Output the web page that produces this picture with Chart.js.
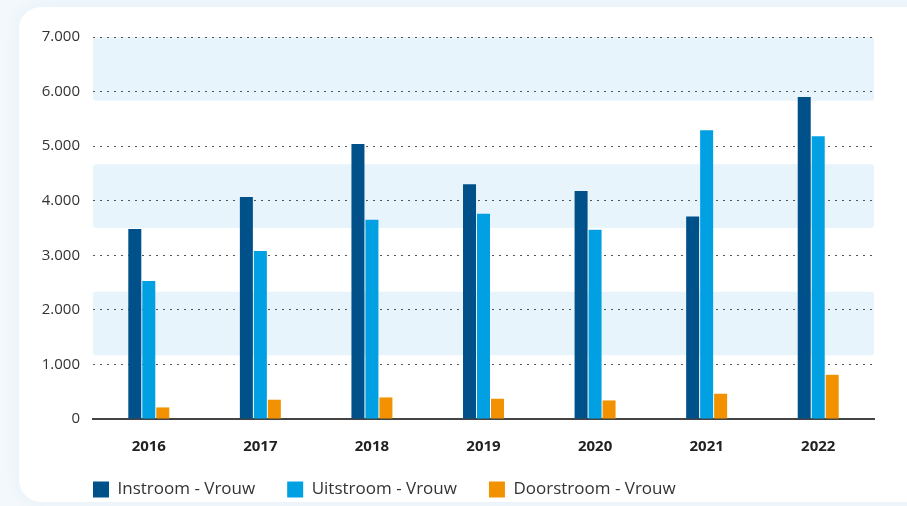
<!DOCTYPE html>
<html lang="nl">
<head>
<meta charset="utf-8">
<title>Instroom, uitstroom en doorstroom - Vrouw</title>
<script src="https://cdn.jsdelivr.net/npm/chart.js@4/dist/chart.umd.min.js"></script>
<style>
  html, body { margin: 0; padding: 0; width: 907px; height: 506px; overflow: hidden; background: #f2f8fc; }
  .card {
    position: absolute; left: 19px; top: 7px; width: 940px; height: 495px;
    background: #ffffff; border-radius: 22px;
    box-shadow: 0 0 18px rgba(0, 110, 170, 0.05);
  }
  .wrap { position: absolute; left: 0; top: 0; width: 907px; height: 506px; }
</style>
</head>
<body>
<div class="card"></div>
<div class="wrap"><canvas id="chart" width="907" height="506"></canvas></div>
<script>
// Jaren op de x-as
const years = ['2016', '2017', '2018', '2019', '2020', '2021', '2022'];

// Aantallen per jaar
const instroomVrouw   = [3480, 4070, 5040, 4300, 4180, 3710, 5900];
const uitstroomVrouw  = [2530, 3080, 3650, 3760, 3470, 5290, 5180];
const doorstroomVrouw = [212, 353, 395, 371, 340, 463, 810];

// Labels van de reeksen
const seriesLabels = ['Instroom - Vrouw', 'Uitstroom - Vrouw', 'Doorstroom - Vrouw'];

// Y-as: bereik en stapgrootte
const yMin = 0;
const yMax = 7000;
const yStep = 1000;

const FONT = "'Open Sans', 'Noto Sans', sans-serif";
const LEGEND_PADDING = 32;
const LEGEND_BOX_TOP = 481;

// Duizendtallen met een punt scheiden: 7000 -> 7.000
function formatNl(v) {
  return String(Math.round(v)).replace(/\B(?=(\d{3})+(?!\d))/g, '.');
}

// Lichtblauwe banden achter het plotvlak (zes gelijke stroken, om en om gevuld)
const bandPlugin = {
  id: 'bands',
  beforeDraw(chart) {
    const { ctx, chartArea } = chart;
    const y = chart.scales.y;
    const parts = 6;
    const size = (yMax - yMin) / parts;
    ctx.save();
    ctx.fillStyle = '#e8f4fc';
    for (let i = 0; i < parts; i += 2) {
      const top = y.getPixelForValue(yMax - i * size);
      const bottom = y.getPixelForValue(yMax - (i + 1) * size);
      ctx.beginPath();
      if (ctx.roundRect) {
        ctx.roundRect(chartArea.left, top, chartArea.right - chartArea.left, bottom - top, 3);
      } else {
        ctx.rect(chartArea.left, top, chartArea.right - chartArea.left, bottom - top);
      }
      ctx.fill();
    }
    ctx.restore();
  }
};

// Legenda laten beginnen onder de linkerrand van het plotvlak
const legendAlignPlugin = {
  id: 'legendAlign',
  afterLayout(chart) {
    const legend = chart.legend;
    if (!legend) return;
    const dx = chart.chartArea.left - LEGEND_PADDING - legend.left;
    legend.left += dx;
    legend.right += dx;
    legend.top = LEGEND_BOX_TOP - LEGEND_PADDING;
    legend.bottom = chart.height;
  }
};

new Chart(document.getElementById('chart'), {
  type: 'bar',
  data: {
    labels: years,
    datasets: [
      { label: seriesLabels[0], data: instroomVrouw,   backgroundColor: '#005189' },
      { label: seriesLabels[1], data: uitstroomVrouw,  backgroundColor: '#00a0e2' },
      { label: seriesLabels[2], data: doorstroomVrouw, backgroundColor: '#f39200' }
    ]
  },
  options: {
    responsive: false,
    animation: false,
    devicePixelRatio: 1,
    layout: { padding: { left: 30, right: 33, top: 37, bottom: 0 } },
    datasets: {
      bar: { categoryPercentage: 0.376, barPercentage: 0.93, borderWidth: 0 }
    },
    scales: {
      x: {
        afterFit(scale) { scale.height = 58; },
        grid: { display: false, drawTicks: false },
        border: { display: true, color: '#444444', width: 2 },
        ticks: {
          padding: 19,
          color: '#222222',
          font: { family: FONT, size: 15, weight: 'bold' }
        }
      },
      y: {
        min: yMin,
        max: yMax,
        afterFit(scale) { scale.width = 63; },
        grid: { color: '#555555', lineWidth: 1, drawTicks: false },
        border: { display: false, dash: [2, 5] },
        ticks: {
          stepSize: yStep,
          padding: 13,
          color: '#333333',
          font: { family: FONT, size: 15 },
          callback: (v) => formatNl(v)
        }
      }
    },
    plugins: {
      legend: {
        position: 'bottom',
        align: 'start',
        maxHeight: 29,
        labels: {
          boxWidth: 16,
          boxHeight: 16,
          padding: LEGEND_PADDING,
          color: '#333333',
          font: { family: FONT, size: 17 }
        }
      },
      tooltip: { enabled: false }
    }
  },
  plugins: [bandPlugin, legendAlignPlugin]
});
</script>
</body>
</html>
